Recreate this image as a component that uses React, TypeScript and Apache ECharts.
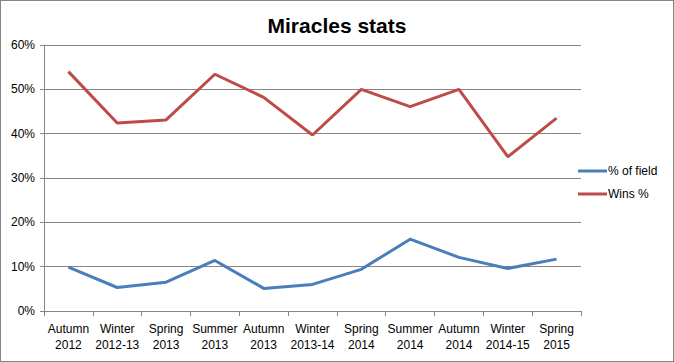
import React, { useEffect, useRef } from "react";
import * as echarts from "echarts";

const categories = [
  "Autumn\n2012", "Winter\n2012-13", "Spring\n2013", "Summer\n2013", "Autumn\n2013",
  "Winter\n2013-14", "Spring\n2014", "Summer\n2014", "Autumn\n2014", "Winter\n2014-15", "Spring\n2015",
];
const fieldPct = [9.9, 5.3, 6.5, 11.4, 5.1, 6.0, 9.4, 16.2, 12.1, 9.6, 11.7];
const winsPct = [54.0, 42.4, 43.1, 53.4, 48.2, 39.7, 50.0, 46.1, 50.0, 34.8, 43.5];
const yTicks = { min: 0, max: 60, interval: 10 };

export default function App() {
  const ref = useRef<HTMLDivElement>(null);
  useEffect(() => {
    if (!ref.current) return;
    const chart = echarts.init(ref.current, undefined, { renderer: "svg" });
    const font = "Liberation Sans, Arial, sans-serif";
    chart.setOption({
      animation: false,
      title: {
        text: "Miracles stats",
        left: "center",
        top: 10,
        textStyle: { fontFamily: font, fontSize: 21, fontWeight: "bold", color: "#000" },
      },
      grid: { left: 44, right: 93, top: 45, bottom: 51, containLabel: false },
      legend: {
        orient: "vertical",
        left: 573,
        top: 160,
        itemWidth: 29,
        itemHeight: 3,
        itemGap: 11,
        icon: "rect",
        textStyle: { fontFamily: font, fontSize: 12, color: "#000", padding: [0, 0, 0, -4] },
        data: ["% of field", "Wins %"],
      },
      xAxis: {
        type: "category",
        data: categories,
        boundaryGap: true,
        axisLine: { lineStyle: { color: "#868686", width: 1 } },
        axisTick: { show: true, length: 5, lineStyle: { color: "#868686" } },
        axisLabel: {
          interval: 0,
          margin: 10,
          lineHeight: 16,
          fontFamily: font,
          fontSize: 12,
          color: "#000",
        },
      },
      yAxis: {
        type: "value",
        min: yTicks.min,
        max: yTicks.max,
        interval: yTicks.interval,
        axisLine: { show: true, lineStyle: { color: "#868686", width: 1 } },
        axisTick: { show: true, length: 4, lineStyle: { color: "#868686" } },
        splitLine: { lineStyle: { color: "#868686", width: 1 } },
        axisLabel: {
          formatter: "{value}%",
          margin: 9,
          fontFamily: font,
          fontSize: 12,
          color: "#000",
        },
      },
      series: [
        {
          name: "% of field",
          type: "line",
          data: fieldPct,
          symbol: "none",
          color: "#4A7EBB",
          lineStyle: { width: 3, color: "#4A7EBB" },
        },
        {
          name: "Wins %",
          type: "line",
          data: winsPct,
          symbol: "none",
          color: "#BE4B48",
          lineStyle: { width: 3, color: "#BE4B48" },
        },
      ],
    });
    return () => chart.dispose();
  }, []);
  return (
    <div
      style={{
        position: "absolute",
        left: 0,
        top: 0,
        width: 674,
        height: 362,
        boxSizing: "border-box",
        border: "1px solid #868686",
        background: "#fff",
      }}
    >
      <div ref={ref} style={{ position: "absolute", left: -1, top: -1, width: 674, height: 362 }} />
    </div>
  );
}
